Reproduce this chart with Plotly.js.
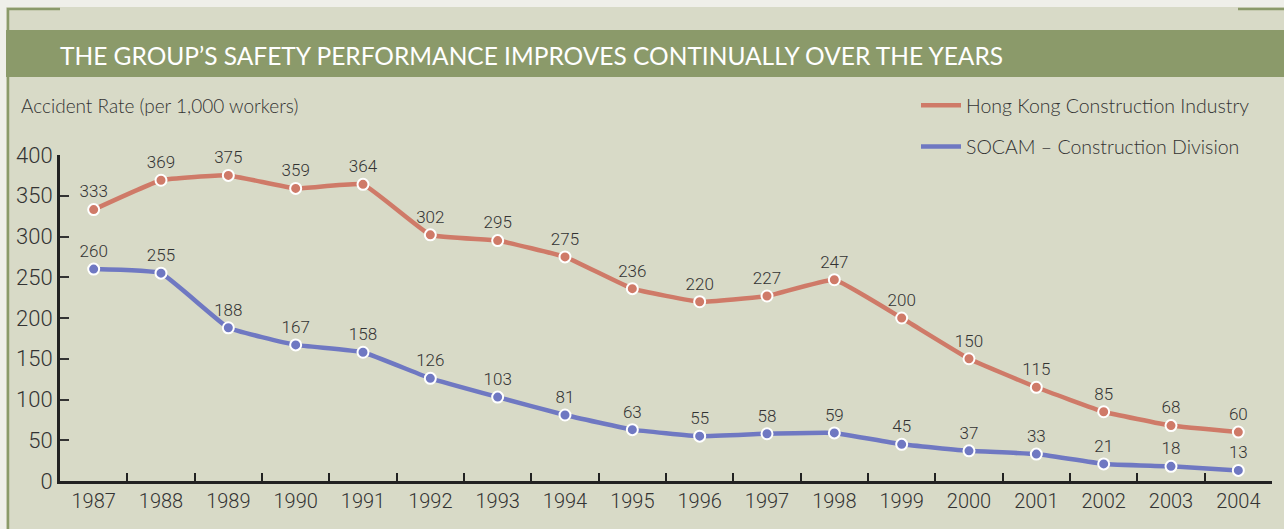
<!DOCTYPE html>
<html>
<head>
<meta charset="utf-8">
<script src="https://cdn.plot.ly/plotly-3.0.1.min.js"></script>
<style>html,body{margin:0;padding:0;background:#d8dac7;}#chart{width:1284px;height:529px;}</style>
</head>
<body>
<div id="chart"></div>
<script>
const years = ["1987","1988","1989","1990","1991","1992","1993","1994","1995","1996","1997","1998","1999","2000","2001","2002","2003","2004"];
const hkIndustry = [333,369,375,359,364,302,295,275,236,220,227,247,200,150,115,85,68,60];
const socam = [260,255,188,167,158,126,103,81,63,55,58,59,45,37,33,21,18,13];
const seriesNames = ["Hong Kong Construction Industry", "SOCAM \u2013 Construction Division"];
const yTicks = [0,50,100,150,200,250,300,350,400];

const W = 1284, H = 529;
const L = 60, R = 12, T = 155, B = 48;
const pw = W - L - R, ph = H - T - B;
const px = x => (x - L) / pw;
const py = y => (H - B - y) / ph;

const red = '#cf7a68', blue = '#6f78c2';
const narrow = 'Roboto, "Liberation Sans", sans-serif';
const sans = 'Lato, "Open Sans", sans-serif';

function lineTrace(y, color, name, grp) {
  return {x: years, y: y, type: 'scatter', mode: 'lines', name: name, legendgroup: grp,
    line: {color: color, width: 4.5, shape: 'spline', smoothing: 0.3}, hoverinfo: 'skip'};
}
function markTrace(y, color, grp) {
  return {x: years, y: y, type: 'scatter', mode: 'markers+text', showlegend: false, legendgroup: grp,
    marker: {color: color, size: 11, line: {color: '#ffffff', width: 2}},
    text: y.map(String), textposition: 'top center',
    textfont: {family: narrow, size: 17, weight: 300, color: '#333333'}, cliponaxis: false};
}

const data = [
  lineTrace(hkIndustry, red, seriesNames[0], 'a'),
  lineTrace(socam, blue, seriesNames[1], 'b'),
  markTrace(hkIndustry, red, 'a'),
  markTrace(socam, blue, 'b')
];

const layout = {
  width: W, height: H,
  margin: {l: L, r: R, t: T, b: B},
  paper_bgcolor: '#d8dac7', plot_bgcolor: 'rgba(0,0,0,0)',
  showlegend: true,
  legend: {x: px(916), y: py(86), xanchor: 'left', yanchor: 'top', bgcolor: 'rgba(0,0,0,0)',
    font: {family: sans, size: 19.5, weight: 300, color: '#333333'}, tracegroupgap: 13, traceorder: 'grouped',
    itemwidth: 40},
  title: {text: "THE GROUP\u2019S SAFETY PERFORMANCE IMPROVES CONTINUALLY OVER THE YEARS",
    xref: 'container', yref: 'container', x: 60 / W, xanchor: 'left', y: 1 - 56 / H, yanchor: 'middle',
    font: {family: sans, size: 24.5, weight: 400, color: '#ffffff'}},
  xaxis: {type: 'category', range: [-0.5, 17.5], showgrid: false, zeroline: false,
    showline: true, linecolor: '#222222', linewidth: 3,
    ticks: 'inside', tickson: 'boundaries', ticklen: 8, tickwidth: 2, tickcolor: '#222222',
    tickfont: {family: narrow, size: 20, weight: 300, color: '#333333'}, fixedrange: true},
  yaxis: {range: [0, 400], tickvals: yTicks, showgrid: false, zeroline: false,
    showline: true, linecolor: '#222222', linewidth: 3,
    ticks: 'inside', ticklen: 9, tickwidth: 2, tickcolor: '#333333',
    tickfont: {family: narrow, size: 22, weight: 300, color: '#333333'}, fixedrange: true},
  annotations: [
    {text: 'Accident Rate (per 1,000 workers)', xref: 'paper', yref: 'paper', x: px(19), y: py(105),
      xanchor: 'left', yanchor: 'middle', showarrow: false, font: {family: sans, size: 19, weight: 300, color: '#333333'}}
  ],
  shapes: [
    {type: 'rect', xref: 'paper', yref: 'paper', x0: px(0), x1: px(W), y0: py(0), y1: py(7), fillcolor: '#efefe9', line: {width: 0}, layer: 'below'},
    {type: 'rect', xref: 'paper', yref: 'paper', x0: px(0), x1: px(6), y0: py(0), y1: py(H), fillcolor: '#efefe9', line: {width: 0}, layer: 'below'},
    {type: 'line', xref: 'paper', yref: 'paper', x0: px(8), x1: px(8), y0: py(8), y1: py(H), line: {color: '#8b9a6a', width: 2.5}, layer: 'below'},
    {type: 'line', xref: 'paper', yref: 'paper', x0: px(7), x1: px(60), y0: py(9), y1: py(9), line: {color: '#8b9a6a', width: 2.5}, layer: 'below'},
    {type: 'line', xref: 'paper', yref: 'paper', x0: px(1238), x1: px(W), y0: py(9), y1: py(9), line: {color: '#8b9a6a', width: 2.5}, layer: 'below'},
    {type: 'rect', xref: 'paper', yref: 'paper', x0: px(6), x1: px(W), y0: py(77), y1: py(30), fillcolor: '#8b9a6a', line: {width: 0}, layer: 'below'}
  ]
};

Plotly.newPlot('chart', data, layout, {displayModeBar: false, staticPlot: true});
</script>
</body>
</html>
